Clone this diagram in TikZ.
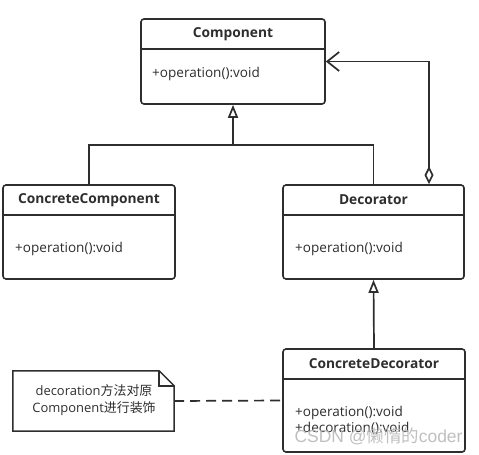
\documentclass[tikz,border=0pt]{standalone}
\usepackage{fontspec}
\setmainfont{Open Sans}
\newfontfamily\cjk{Noto Sans CJK SC}
\newfontfamily\wmfont{Liberation Sans}
\usetikzlibrary{arrows.meta}
\definecolor{umlline}{HTML}{2E2E2E}
\tikzset{
  classbox/.style={draw=umlline, line width=1.6bp, rounded corners=3bp, fill=white},
  divider/.style={draw=umlline, line width=1.6bp},
  title/.style={font=\fontsize{13.8}{16}\selectfont\bfseries, text=umlline},
  op/.style={font=\fontsize{13.6}{15}\selectfont, text=umlline, anchor=west, inner sep=0pt},
  link/.style={draw=umlline, line width=1.7bp},
  inherit/.style={link, -{Triangle[open, length=13bp, width=10bp]}},
}
\begin{document}
\begin{tikzpicture}[x=1bp, y=-1bp]
\useasboundingbox (0,0) rectangle (479,455);
% class boxes
\node[classbox, minimum width=184bp, minimum height=85bp] (comp) at (233,61.5) {};
\node[classbox, minimum width=172bp, minimum height=94bp] (cc) at (89,232) {};
\node[classbox, minimum width=181bp, minimum height=94bp] (dec) at (373.5,232) {};
\node[classbox, minimum width=182bp, minimum height=103bp] (cd) at (374,400.5) {};

\draw[divider] (comp.west |- 0,49) -- (comp.east |- 0,49);
\draw[divider] (cc.west |- 0,215) -- (cc.east |- 0,215);
\draw[divider] (dec.west |- 0,215) -- (dec.east |- 0,215);
\draw[divider] (cd.west |- 0,379) -- (cd.east |- 0,379);

\node[title] (compT) at (233,34) {Component};
\node[title] (ccT) at (89,200) {ConcreteComponent};
\node[title] (decT) at (373.5,200) {Decorator};
\node[title] (cdT) at (374,364) {ConcreteDecorator};

\node[op] (compO) at (152,74) {+operation():void};
\node[op] (ccO) at (15,249) {+operation():void};
\node[op] (decO) at (295,249) {+operation():void};
\node[op] (cdO) at (295,413) {+operation():void};
\node[op] (cdD) at (295,428) {+decoration():void};

% note
\node[minimum width=161bp, minimum height=60bp, inner sep=0pt] (note) at (93.5,401) {};
\draw[link, line width=1.5bp] (note.north west) -- ([xshift=-15bp]note.north east)
  -- ([yshift=-15bp]note.north east) -- (note.south east) -- (note.south west) -- cycle;
\draw[link, line width=1.5bp] ([xshift=-15bp]note.north east) -- ([xshift=-15bp, yshift=-15bp]note.north east)
  -- ([yshift=-15bp]note.north east);
\node[font=\fontsize{13}{16.5}\selectfont, text=umlline, align=center] (noteT) at (94,400)
  {decoration{\cjk 方法对原}\\Component{\cjk 进行装饰}};

% connectors
\coordinate (j1) at (233,145);
\draw[link] (cc.north) |- (j1) -| (dec.north);
\draw[inherit] (j1) -- (comp.south);
\draw[inherit] (cd.north) -- (dec.south);
\draw[link, {Diamond[open, length=18bp, width=9bp]}-{Straight Barb[length=12bp, width=19bp]}]
  ([xshift=55.5bp]dec.north) |- (comp.east);
\draw[link, dash pattern=on 10bp off 6bp] (note.east) -- (cd.west);

% watermark
\node[font=\fontsize{17.5}{19}\selectfont, text=gray!55, opacity=0.9, anchor=east] (wm) at (466,436)
  {\wmfont CSDN @{\cjk 懒惰的}coder};
\end{tikzpicture}
\end{document}
